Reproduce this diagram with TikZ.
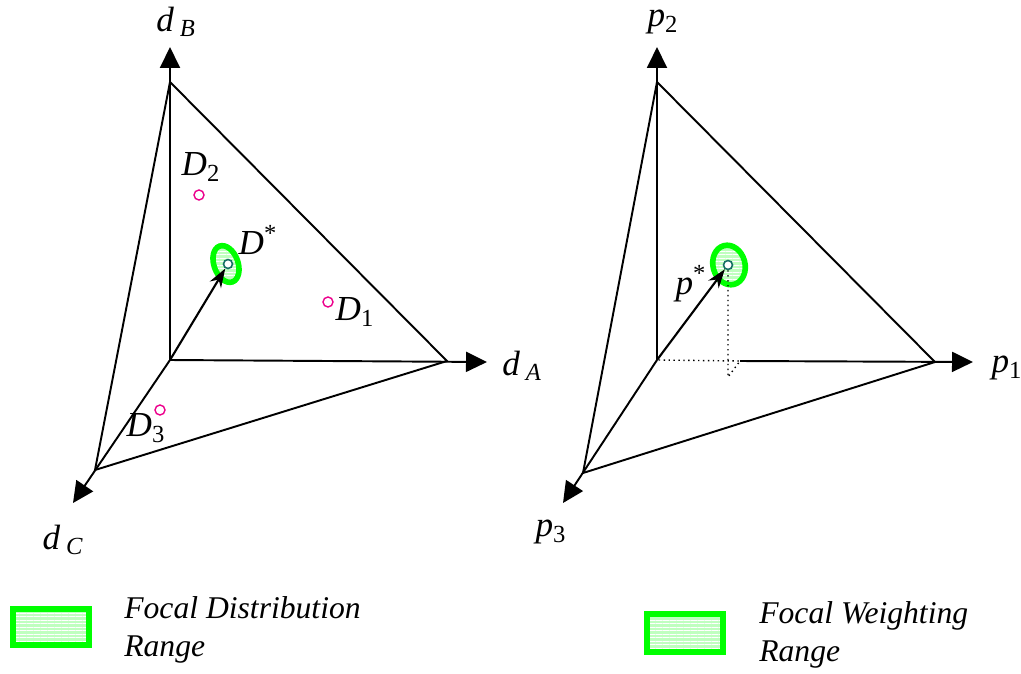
\documentclass[tikz,border=0pt]{standalone}
\usepackage{fontspec}
\setmainfont{Liberation Serif}
\usetikzlibrary{arrows.meta,patterns.meta}

\definecolor{ptteal}{RGB}{20,110,100}

\begin{document}
\begin{tikzpicture}[
    x=0.02cm, y=-0.02cm,
    every node/.style={font=\fontsize{20}{22}\selectfont\itshape, inner sep=0pt},
    triline/.style={line width=1.1pt},
    axisline/.style={-{Triangle[length=0.42cm,width=0.4cm]}, line width=1.1pt},
    vec/.style={-{Stealth[length=0.38cm,width=0.26cm]}, line width=1.2pt},
    focalrange/.style={draw=green, line width=3.2pt, preaction={fill=green!25},
                  pattern={Lines[angle=0,distance=2pt,line width=0.5pt]},
                  pattern color=white},
    obs/.style={circle, draw=magenta, line width=0.8pt, minimum size=0.2cm},
    focal/.style={circle, draw=ptteal, fill=white, line width=0.9pt, minimum size=0.18cm},
    proj/.style={dotted, line width=0.8pt},
    legend/.style={align=left, anchor=north west, font=\fontsize{18}{22}\selectfont\itshape},
]
\useasboundingbox (0,0) rectangle (1021,673);

% Distribution space (left)
\coordinate (dO) at (170,360);
\coordinate (dB) at (170,82);
\coordinate (dA) at (447,361);
\coordinate (dC) at (95,470);
\coordinate (dBtip) at (170,47);
\coordinate (dAtip) at (487,362);
\coordinate (dCtip) at (73,503);

\draw[triline] (dB) -- (dA) -- (dC) -- cycle;
\draw[axisline] (dO) -- (dBtip);
\draw[axisline] (dO) -- (dAtip);
\draw[axisline] (dO) -- (dCtip);

\draw[focalrange, rotate around={20:(226,264)}] (226,264) ellipse [x radius=12, y radius=19];
\node[focal] (Dstar) at (228,264) {};
\draw[vec] (dO) -- (Dstar);

\node[obs] (D2) at (199,195) {};
\node[obs] (D1) at (328,302) {};
\node[obs] (D3) at (160,410) {};

\node (lDstar) at (258,240) {D\textsuperscript{\upshape *}};
\node (lD2) at (201,167) {D\textsubscript{\upshape 2}};
\node (lD1) at (355,312) {D\textsubscript{\upshape 1}};
\node (lD3) at (146,428) {D\textsubscript{\upshape 3}};

\node (ldB) at (176,22) {d\,\textsubscript{B}};
\node (ldA) at (522,366) {d\,\textsubscript{A}};
\node (ldC) at (63,540) {d\,\textsubscript{C}};

% Weighting space (right)
\coordinate (pO) at (657,360);
\coordinate (pB) at (657,82);
\coordinate (pA) at (935,362);
\coordinate (pC) at (583,473);
\coordinate (pBtip) at (657,47);
\coordinate (pAtip) at (973,362);
\coordinate (pCtip) at (563,503);
\coordinate (pQ) at (740,361);
\coordinate (pF) at (728,377);

\draw[triline] (pB) -- (pA) -- (pC) -- cycle;
\draw[axisline] (pO) -- (pBtip);
\draw[axisline] (pQ) -- (pAtip);
\draw[axisline] (pO) -- (pCtip);

\draw[focalrange, rotate around={15:(729,265)}] (729,265) ellipse [x radius=16, y radius=20];
\node[focal] (pstar) at (728,265) {};
\draw[proj] (pstar) -- (pF) -- (pQ) -- (pO);
\draw[vec] (pO) -- (pstar);

\node (lpstar) at (691,284) {p\textsuperscript{\upshape *}};
\node (lp2) at (663,22) {p\textsubscript{\upshape 2}};
\node (lp1) at (1007,368) {p\textsubscript{\upshape 1}};
\node (lp3) at (551,532) {p\textsubscript{\upshape 3}};

% Legends
\draw[focalrange] (13,609) rectangle (89,645);
\node[legend] (leg1) at (124,596) {Focal Distribution\\Range};
\draw[focalrange] (647,614) rectangle (723,652);
\node[legend] (leg2) at (759,601) {Focal Weighting\\Range};
\end{tikzpicture}
\end{document}
